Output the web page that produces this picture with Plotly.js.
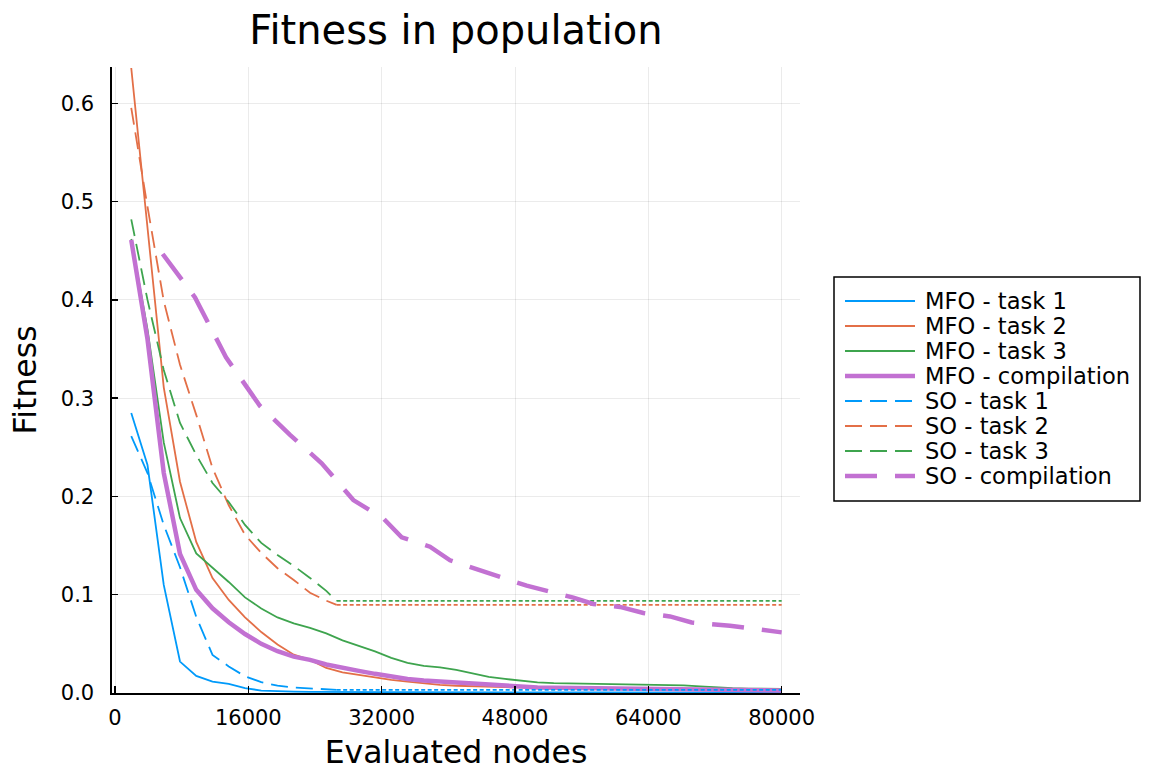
<!DOCTYPE html>
<html>
<head>
<meta charset="utf-8">
<script src="https://cdn.plot.ly/plotly-3.0.1.min.js"></script>
<style>html,body{margin:0;padding:0;background:#fff;}#chart{width:1152px;height:772px;}</style>
</head>
<body>
<div id="chart"></div>
<script>
// ---- data ----
const evals = [1950, 3900, 5850, 7800, 9750, 11700, 13650, 15600, 17550, 19500,
  21450, 23400, 25350, 27300, 29250, 31200, 33150, 35100, 37050, 39000,
  40950, 42900, 44850, 46800, 48750, 50700, 52650, 54600, 56550, 58500,
  60450, 62400, 64350, 66300, 68250, 70200, 72150, 74100, 76050, 78000, 79950];

const mfoTask1 = [0.285, 0.232, 0.110, 0.032, 0.0174, 0.0116, 0.0093, 0.0049, 0.0025, 0.0018,
  0.0015, 0.0012, 0.0010, 0.0009, 0.0009, 0.0008, 0.0008, 0.0008, 0.0007, 0.0007,
  0.0007, 0.0007, 0.0006, 0.0006, 0.0006, 0.0006, 0.0005, 0.0005, 0.0005, 0.0005,
  0.0004, 0.0004, 0.0004, 0.0004, 0.0004, 0.0003, 0.0003, 0.0003, 0.0003, 0.0003, 0.0003];

const mfoTask2 = [0.636, 0.477, 0.311, 0.215, 0.1537, 0.117, 0.0947, 0.077, 0.062, 0.0494,
  0.039, 0.0337, 0.0255, 0.021, 0.0184, 0.0154, 0.0133, 0.0116, 0.0098, 0.0082,
  0.0074, 0.0067, 0.0062, 0.0059, 0.0057, 0.0052, 0.0050, 0.0048, 0.0046, 0.0044,
  0.0042, 0.0040, 0.0038, 0.0037, 0.0036, 0.0035, 0.0034, 0.0033, 0.0032, 0.0031, 0.0030];

const mfoTask3 = [0.462, 0.37, 0.255, 0.178, 0.142, 0.128, 0.113, 0.0973, 0.086, 0.0769,
  0.0708, 0.0662, 0.0606, 0.0535, 0.0482, 0.0423, 0.0357, 0.0306, 0.0276, 0.026,
  0.0235, 0.020, 0.0164, 0.0143, 0.0126, 0.0108, 0.0100, 0.0098, 0.0096, 0.0093,
  0.0090, 0.0086, 0.0082, 0.0080, 0.0077, 0.0067, 0.0057, 0.0049, 0.0045, 0.0042, 0.0042];

const mfoCompilation = [0.461, 0.36, 0.224, 0.1415, 0.105, 0.0862, 0.072, 0.060, 0.050, 0.0425,
  0.037, 0.0337, 0.029, 0.0252, 0.0225, 0.0195, 0.0166, 0.0143, 0.0127, 0.0116,
  0.0105, 0.0091, 0.0078, 0.0069, 0.0063, 0.0056, 0.0053, 0.0051, 0.0050, 0.0048,
  0.0046, 0.0044, 0.0042, 0.0041, 0.0040, 0.0035, 0.0032, 0.0029, 0.0027, 0.0026, 0.0025];

const soEvals = [1950, 3900, 5850, 7800, 9750, 11700, 13650, 15600, 17550, 19500,
  21450, 23400, 25350, 26600];
const soTask1 = [0.2615, 0.2238, 0.171, 0.128, 0.0774, 0.0388, 0.027, 0.017, 0.011, 0.0075,
  0.0055, 0.0048, 0.0040, 0.0032];
const soTask2 = [0.5955, 0.4948, 0.399, 0.334, 0.283, 0.229, 0.191, 0.161, 0.1425, 0.127,
  0.115, 0.102, 0.094, 0.0896];
const soTask3 = [0.482, 0.400, 0.3286, 0.2748, 0.2422, 0.2137, 0.1944, 0.171, 0.1527, 0.1405,
  0.1293, 0.1171, 0.1039, 0.0937];
const soPlateauEnd = 80000;

const soCompEvals = [5720, 9600, 13320, 17400, 21000, 24800, 28600, 32200, 34400, 37800,
  40200, 43800, 49400, 55000, 57400, 60600, 63400, 66600, 69200, 73800, 77400, 80000];
const soCompilation = [0.4467, 0.4026, 0.3416, 0.2921, 0.2626, 0.2338, 0.1963, 0.1777, 0.1584, 0.1489,
  0.1350, 0.1248, 0.1092, 0.0971, 0.0906, 0.0876, 0.0814, 0.0779, 0.0718, 0.0685, 0.0645, 0.0617];

const names = ["MFO - task 1", "MFO - task 2", "MFO - task 3", "MFO - compilation",
  "SO - task 1", "SO - task 2", "SO - task 3", "SO - compilation"];
const xTicks = [0, 16000, 32000, 48000, 64000, 80000];
const yTicks = [0.0, 0.1, 0.2, 0.3, 0.4, 0.5, 0.6];

// ---- styling ----
const C = ["#009AFA", "#E36F47", "#3EA44E", "#C271D2"];
const thin = 1.8, thick = 4.5;
const thinDash = "17px,8px", thickDash = "32px,18px", dotDash = "4px,2.5px";
const styles = [
  {c: C[0], w: thin, d: "solid"}, {c: C[1], w: thin, d: "solid"},
  {c: C[2], w: thin, d: "solid"}, {c: C[3], w: thick, d: "solid"},
  {c: C[0], w: thin, d: thinDash}, {c: C[1], w: thin, d: thinDash},
  {c: C[2], w: thin, d: thinDash}, {c: C[3], w: thick, d: thickDash}
];

function tr(x, y, name, st) {
  return {x: x, y: y, name: name, type: "scatter", mode: "lines",
    line: {color: st.c, width: st.w, dash: st.d},
    showlegend: false, hoverinfo: "skip"};
}
function last(a) { return a[a.length - 1]; }
const dotStyle = c => ({c: c, w: thin, d: dotDash});

const traces = [
  tr(evals, mfoTask1, names[0], styles[0]),
  tr(evals, mfoTask2, names[1], styles[1]),
  tr(evals, mfoTask3, names[2], styles[2]),
  tr(evals, mfoCompilation, names[3], styles[3]),
  tr(soEvals, soTask1, names[4], styles[4]),
  tr(soEvals, soTask2, names[5], styles[5]),
  tr(soEvals, soTask3, names[6], styles[6]),
  tr([last(soEvals), soPlateauEnd], [last(soTask1), last(soTask1)], names[4] + " (final)", dotStyle(C[0])),
  tr([last(soEvals), soPlateauEnd], [last(soTask2), last(soTask2)], names[5] + " (final)", dotStyle(C[1])),
  tr([last(soEvals), soPlateauEnd], [last(soTask3), last(soTask3)], names[6] + " (final)", dotStyle(C[2])),
  tr(soCompEvals, soCompilation, names[7], styles[7])
];

// ---- plot geometry (pixels) ----
const W = 1152, H = 772, L = 112, R = 800, T = 67, B = 693;
const px = v => (v - L) / (R - L);
const py = v => (B - v) / (B - T);

// legend drawn as a box with line samples and text
const legBox = {x0: 834, x1: 1140, y0: 277, y1: 501};
const rowY0 = 301, rowStep = 25, sampleX0 = 845, sampleX1 = 915, textX = 923;
const shapes = [{
  type: "rect", xref: "paper", yref: "paper",
  x0: px(legBox.x0), x1: px(legBox.x1), y0: py(legBox.y1), y1: py(legBox.y0),
  line: {color: "#000", width: 1.5}, fillcolor: "#fff", layer: "above"
}];
const annotations = [];
names.forEach((n, i) => {
  const yy = rowY0 + i * rowStep;
  shapes.push({type: "line", xref: "paper", yref: "paper",
    x0: px(sampleX0), x1: px(sampleX1), y0: py(yy), y1: py(yy),
    line: {color: styles[i].c, width: styles[i].w, dash: styles[i].d}, layer: "above"});
  annotations.push({text: n, xref: "paper", yref: "paper", x: px(textX), y: py(yy),
    xanchor: "left", yanchor: "middle", showarrow: false,
    font: {family: "DejaVu Sans, sans-serif", size: 22.6, color: "#000"}});
});

const FONT = "DejaVu Sans, sans-serif";
const layout = {
  width: W, height: H,
  margin: {l: L, r: W - R, t: T, b: H - B},
  paper_bgcolor: "#ffffff", plot_bgcolor: "#ffffff",
  font: {family: FONT, color: "#000000", size: 21},
  title: {text: "Fitness in population", font: {family: FONT, size: 40, color: "#000"},
    x: 456 / W, xanchor: "center", xref: "container", y: 1 - 30 / H, yanchor: "middle"},
  xaxis: {
    range: [-360, 82200], tickmode: "array", tickvals: xTicks,
    ticktext: xTicks.map(v => String(v)),
    ticks: "inside", ticklen: 7, tickwidth: 1.5, tickcolor: "#000",
    showline: true, linecolor: "#000", linewidth: 1.6, mirror: false,
    showgrid: true, gridcolor: "rgba(0,0,0,0.08)", gridwidth: 1, zeroline: false,
    tickfont: {family: FONT, size: 21}, ticklabelstandoff: 5,
    title: {text: "Evaluated nodes", font: {family: FONT, size: 31.5}, standoff: 12}
  },
  yaxis: {
    range: [0, 0.637], tickmode: "array", tickvals: yTicks,
    ticktext: yTicks.map(v => v.toFixed(1)),
    ticks: "inside", ticklen: 6, tickwidth: 1.5, tickcolor: "#000",
    showline: true, linecolor: "#000", linewidth: 1.6, mirror: false,
    showgrid: true, gridcolor: "rgba(0,0,0,0.08)", gridwidth: 1, zeroline: false,
    tickfont: {family: FONT, size: 21}, ticklabelstandoff: 12,
    title: {text: "Fitness", font: {family: FONT, size: 31.5}, standoff: 15}
  },
  shapes: shapes,
  annotations: annotations,
  showlegend: false
};

Plotly.newPlot("chart", traces, layout, {staticPlot: true, displayModeBar: false});
</script>
</body>
</html>
